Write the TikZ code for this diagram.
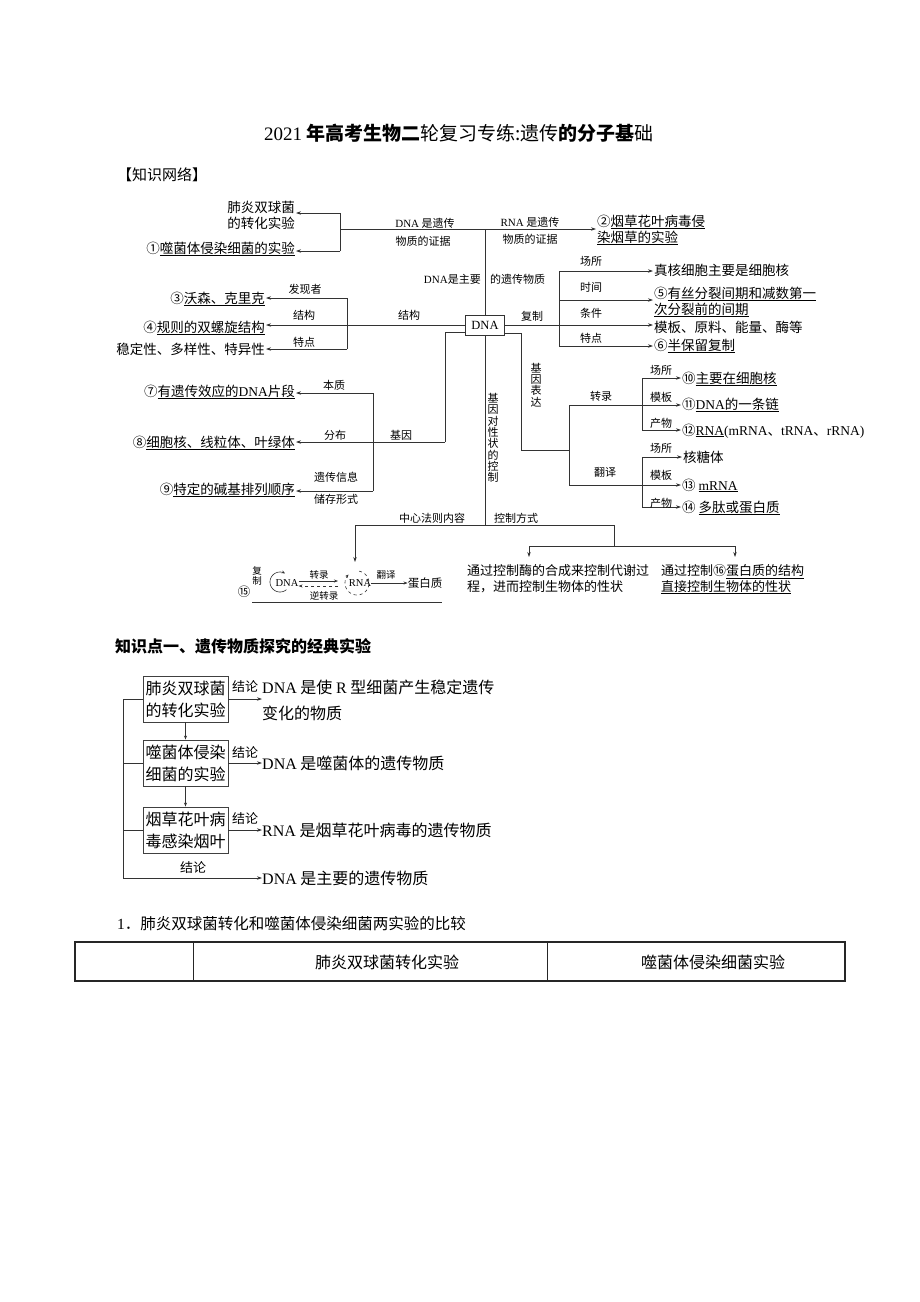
\documentclass[tikz,border=0pt]{standalone}
\usepackage{fontspec}
\setmainfont{Noto Sans CJK SC}
\newfontfamily\lat{Liberation Serif}
\newcommand\E[1]{{\lat #1}}
\newcommand\U[1]{\underline{#1}}
\usetikzlibrary{arrows.meta}
\begin{document}
\begin{tikzpicture}[x=1pt,y=-1pt,
  ln/.style={draw=black!80,line width=0.75pt},
  arr/.style={ln,-{Stealth[length=5pt,width=3.4pt]}},
  sarr/.style={draw=black!80,line width=0.6pt,-{Stealth[length=4pt,width=3pt]}},
  lab/.style={font=\fontsize{11}{13}\selectfont,inner sep=0pt},
  leaf/.style={font=\fontsize{13.5}{16}\selectfont,inner sep=1pt},
  vt/.style={font=\fontsize{11}{11.3}\selectfont,align=center,inner sep=0pt},
  small/.style={font=\fontsize{9.5}{10.5}\selectfont,inner sep=0pt,align=center},
  bx/.style={draw=black!75,line width=0.9pt,minimum width=85pt,minimum height=46pt,inner sep=0pt,align=center,font=\fontsize{16}{22}\selectfont},
  dtext/.style={font=\fontsize{16}{26}\selectfont,anchor=west,align=left,inner sep=0pt},
  concl/.style={font=\fontsize{13}{15}\selectfont,inner sep=0pt},
]
\fill[white] (0,0) rectangle (920,1302);
\useasboundingbox (0,0) rectangle (920,1302);

% title
\node[font=\fontsize{19}{22}\selectfont,inner sep=0pt] (title) at (459,133) {\E{2021} {\bfseries 年高考生物二}轮复习专练:遗传{\bfseries 的分子基}础};
\node[font=\fontsize{15}{18}\selectfont,anchor=west,inner sep=0pt] (kw) at (117,175) {【知识网络】};

% ---------- top branches
\node[leaf,anchor=east,align=right] (n1) at (296,215) {肺炎双球菌\\的转化实验};
\node[leaf,anchor=base east] (n2) at (296,253) {①\U{噬菌体侵染细菌的实验}};
\node[leaf,anchor=west,align=left] (n3) at (596,230) {②\U{烟草花叶病毒侵}\\\U{染烟草的实验}};
\node[lab] (l1) at (425,223) {\E{DNA} 是遗传};
\node[lab] (l2) at (423,241) {物质的证据};
\node[lab] (l3) at (530,222) {\E{RNA} 是遗传};
\node[lab] (l4) at (530,239) {物质的证据};
\node[lab,anchor=east] (l5) at (481,279) {\E{DNA}是主要};
\node[lab,anchor=west] (l6) at (490,279) {的遗传物质};

\node[draw=black!80,line width=0.75pt,minimum width=39pt,minimum height=20pt,inner sep=0pt,font=\lat\fontsize{12.5}{14}\selectfont] (dna) at (485,325) {DNA};

\coordinate (jT) at (485,229);
\coordinate (jL) at (340,229);
\coordinate (a1) at (340,213);
\coordinate (a2) at (340,251);
\draw[ln] (jL) -- (jT);
\draw[ln] (jT) -- (dna.north);
\draw[arr] (jT) -- (jT -| n3.west);
\draw[ln] (a1) -- (a2);
\draw[arr] (a1) -- (a1 -| n1.east);
\draw[arr] (a2) -- (a2 -| n2.east);

% ---------- structure
\node[leaf,anchor=base east] (n3a) at (266,303) {③\U{沃森、克里克}};
\node[leaf,anchor=base east] (n4) at (266,332) {④\U{规则的双螺旋结构}};
\node[leaf,anchor=base east] (n5) at (266,354) {稳定性、多样性、特异性};
\coordinate (b1) at (347,298);
\coordinate (b2) at (347,349);
\draw[ln] (b1) -- (b2);
\draw[arr] (b1) -- (b1 -| n3a.east);
\draw[arr] (dna.west) -- (dna.west -| n4.east);
\draw[arr] (b2) -- (b2 -| n5.east);
\node[lab] (s1) at (305,289) {发现者};
\node[lab] (s2) at (304,315) {结构};
\node[lab] (s3) at (304,342) {特点};
\node[lab] (s4) at (409,315) {结构};

% ---------- replication
\node[leaf,anchor=base west] (r1) at (653,275) {真核细胞主要是细胞核};
\node[leaf,anchor=west,align=left] (r2) at (653,302) {⑤\U{有丝分裂间期和减数第一}\\\U{次分裂前的间期}};
\node[leaf,anchor=base west] (r3) at (653,332) {模板、原料、能量、酶等};
\node[leaf,anchor=base west] (r4) at (653,350) {⑥\U{半保留复制}};
\coordinate (c1) at (559,271);
\coordinate (c2) at (559,300);
\coordinate (c3) at (559,346);
\draw[ln] (c1) -- (c3);
\draw[arr] (c1) -- (c1 -| r1.west);
\draw[arr] (c2) -- (c2 -| r2.west);
\draw[arr] (dna.east) -- (dna.east -| r3.west);
\draw[arr] (c3) -- (c3 -| r4.west);
\node[lab] (p1) at (532,316) {复制};
\node[lab] (p2) at (591,261) {场所};
\node[lab] (p3) at (591,287) {时间};
\node[lab] (p4) at (591,313) {条件};
\node[lab] (p5) at (591,338) {特点};

% ---------- gene
\coordinate (g1) at (445,332);
\coordinate (g2) at (445,442);
\coordinate (g3) at (373,393);
\coordinate (g4) at (373,491);
\node[leaf,anchor=base east] (n7) at (296,396) {⑦\U{有遗传效应的\E{DNA}片段}};
\node[leaf,anchor=base east] (n8) at (296,447) {⑧\U{细胞核、线粒体、叶绿体}};
\node[leaf,anchor=base east] (n9) at (296,494) {⑨\U{特定的碱基排列顺序}};
\draw[ln] (dna.west |- g1) -- (g1) -- (g2);
\draw[arr] (g2) -- (g2 -| n8.east);
\draw[ln] (g3) -- (g4);
\draw[arr] (g3) -- (g3 -| n7.east);
\draw[arr] (g4) -- (g4 -| n9.east);
\node[lab] (q1) at (334,385) {本质};
\node[lab] (q2) at (335,435) {分布};
\node[lab] (q3) at (401,435) {基因};
\node[lab] (q4) at (336,477) {遗传信息};
\node[lab] (q5) at (336,499) {储存形式};

% ---------- gene expression
\coordinate (e1) at (521,333);
\coordinate (e2) at (521,450);
\coordinate (e3) at (569,450);
\coordinate (e4) at (569,405);
\coordinate (e5) at (569,485);
\coordinate (t1) at (642,378);
\coordinate (t2) at (642,405);
\coordinate (t3) at (642,430);
\coordinate (u1) at (642,457);
\coordinate (u2) at (642,485);
\coordinate (u3) at (642,507);
\node[leaf,anchor=base west] (x10) at (681,383) {⑩\U{主要在细胞核}};
\node[leaf,anchor=base west] (x11) at (681,409) {⑪\U{\E{DNA}的一条链}};
\node[leaf,anchor=base west] (x12) at (681,435) {⑫\U{\E{RNA}}\E{(mRNA}、\E{tRNA}、\E{rRNA)}};
\node[leaf,anchor=base west] (x13) at (682,462) {核糖体};
\node[leaf,anchor=base west] (x14) at (681,490) {⑬ \U{\E{mRNA}}};
\node[leaf,anchor=base west] (x15) at (681,512) {⑭ \U{多肽或蛋白质}};
\draw[ln] (dna.east |- e1) -- (e1) -- (e2) -- (e3);
\draw[ln] (e4) -- (e5);
\draw[ln] (e4) -- (t2);
\draw[ln] (e5) -- (u2);
\draw[ln] (t1) -- (t3);
\draw[ln] (u1) -- (u3);
\draw[arr] (t1) -- (t1 -| x10.west);
\draw[arr] (t2) -- (t2 -| x11.west);
\draw[arr] (t3) -- (t3 -| x12.west);
\draw[arr] (u1) -- (u1 -| x13.west);
\draw[arr] (u2) -- (u2 -| x14.west);
\draw[arr] (u3) -- (u3 -| x15.west);
\node[lab] (w1) at (601,396) {转录};
\node[lab] (w2) at (661,370) {场所};
\node[lab] (w3) at (661,397) {模板};
\node[lab] (w4) at (661,423) {产物};
\node[lab] (w5) at (605,472) {翻译};
\node[lab] (w6) at (661,448) {场所};
\node[lab] (w7) at (661,475) {模板};
\node[lab] (w8) at (661,503) {产物};
\node[vt] (v1) at (536,385) {基\\因\\表\\达};
\node[vt] (v2) at (493,438) {基\\因\\对\\性\\状\\的\\控\\制};

% ---------- control
\coordinate (m0) at (355,525);
\coordinate (m1) at (485,525);
\coordinate (m2) at (614,525);
\coordinate (m3) at (614,546);
\coordinate (m0e) at (355,562);
\coordinate (k1) at (529,546);
\coordinate (k2) at (735,546);
\coordinate (k1e) at (529,557);
\coordinate (k2e) at (735,557);
\draw[ln] (dna.south) -- (m1);
\draw[ln] (m0) -- (m2) -- (m3);
\draw[ln] (k1) -- (k2);
\draw[arr] (m0) -- (m0e);
\draw[arr] (k1) -- (k1e);
\draw[arr] (k2) -- (k2e);
\node[lab] (z1) at (432,518) {中心法则内容};
\node[lab] (z2) at (516,518) {控制方式};
\node[font=\fontsize{13}{16}\selectfont,anchor=north west,align=left,inner sep=0pt] (cc1) at (467,564) {通过控制酶的合成来控制代谢过\\程，进而控制生物体的性状};
\node[font=\fontsize{13}{16}\selectfont,anchor=north west,align=left,inner sep=0pt] (cc2) at (661,564) {通过控制⑯\U{蛋白质的结构}\\\U{直接控制生物体的性状}};

% ---------- central dogma
\node[font=\fontsize{12.5}{15}\selectfont,inner sep=0pt] (n15) at (244,592) {⑮};
\node[small] (fz) at (257,576) {复\\制};
\node[font=\lat\fontsize{10.5}{12}\selectfont,inner sep=0pt] (dnaC) at (287,583) {DNA};
\node[font=\lat\fontsize{10.5}{12}\selectfont,inner sep=0pt] (rnaC) at (360,583) {RNA};
\node[font=\fontsize{11.5}{13}\selectfont,inner sep=0pt] (pd) at (425,583) {蛋白质};
\draw[draw=black!80,line width=0.6pt,-{Stealth[length=3.5pt,width=3pt]}] plot[domain=50:300,samples=40] ({280+10*cos(\x)},{582+10*sin(\x)});
\draw[draw=black!80,line width=0.6pt,dashed,-{Stealth[length=3.5pt,width=3pt]}] plot[domain=280:585,samples=50] ({357+12*cos(\x)},{583+12*sin(\x)});
\coordinate (h1) at (338,581);
\coordinate (h2) at (338,586);
\draw[sarr] (dnaC.east |- h1) -- (h1);
\draw[sarr,dashed] (h2) -- (dnaC.east |- h2);
\draw[sarr] (rnaC.east) -- (pd.west);
\node[small] (y1) at (319,575) {转录};
\node[small] (y2) at (324,596) {逆转录};
\node[small] (y3) at (386,575) {翻译};
\coordinate (ul1) at (252,602);
\coordinate (ul2) at (442,602);
\draw[draw=black!80,line width=0.6pt] (ul1) -- (ul2);

% ---------- section 2
\node[font=\bfseries\fontsize{16}{18}\selectfont,anchor=west,inner sep=0pt] (sec2) at (115,646) {知识点一、遗传物质探究的经典实验};
\node[bx] (bb1) at (185.5,699) {肺炎双球菌\\的转化实验};
\node[bx] (bb2) at (185.5,763) {噬菌体侵染\\细菌的实验};
\node[bx] (bb3) at (185.5,830) {烟草花叶病\\毒感染烟叶};
\draw[sarr] (bb1) -- (bb2);
\draw[sarr] (bb2) -- (bb3);
\node[dtext] (d1) at (262,700) {\E{DNA} 是使 \E{R} 型细菌产生稳定遗传\\变化的物质};
\node[dtext] (d2) at (262,763) {\E{DNA} 是噬菌体的遗传物质};
\node[dtext] (d3) at (262,830) {\E{RNA} 是烟草花叶病毒的遗传物质};
\node[dtext] (d4) at (262,878) {\E{DNA} 是主要的遗传物质};
\coordinate (L1) at (123,699);
\coordinate (L4) at (123,878);
\draw[ln] (bb1.west) -- (L1) -- (L4);
\draw[ln] (bb2.west) -- (bb2.west -| L1);
\draw[ln] (bb3.west) -- (bb3.west -| L1);
\draw[arr] (L4) -- (L4 -| d4.west);
\draw[arr] (bb1.east) -- (bb1.east -| d1.west);
\draw[arr] (bb2.east) -- (bb2.east -| d2.west);
\draw[arr] (bb3.east) -- (bb3.east -| d3.west);
\node[concl] (o1) at (245,687) {结论};
\node[concl] (o2) at (245,753) {结论};
\node[concl] (o3) at (245,819) {结论};
\node[concl] (o4) at (193,868) {结论};

% ---------- section 3
\node[font=\fontsize{15.5}{18}\selectfont,anchor=west,inner sep=0pt] (sec3) at (117,924) {\E{1}．肺炎双球菌转化和噬菌体侵染细菌两实验的比较};
\draw[line width=1.4pt,draw=black!85] (75,942) rectangle (845,981);
\draw[line width=0.8pt,draw=black!85] (193,942) -- (193,981);
\draw[line width=0.8pt,draw=black!85] (547,942) -- (547,981);
\node[font=\fontsize{16}{18}\selectfont,inner sep=0pt] (th1) at (387,962) {肺炎双球菌转化实验};
\node[font=\fontsize{16}{18}\selectfont,inner sep=0pt] (th2) at (713,962) {噬菌体侵染细菌实验};
\end{tikzpicture}
\end{document}
